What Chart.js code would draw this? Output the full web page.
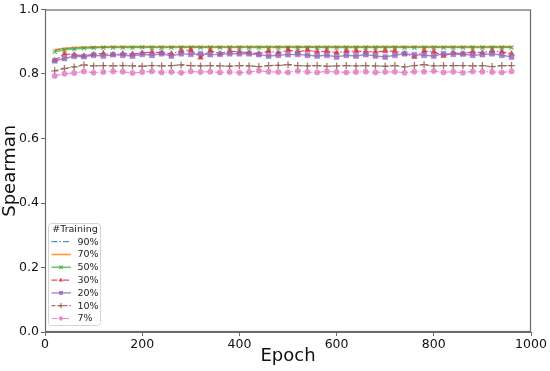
<!DOCTYPE html>
<html>
<head>
<meta charset="utf-8">
<script src="https://cdn.jsdelivr.net/npm/chart.js"></script>
<style>
html,body{margin:0;padding:0;background:#fff;}
#wrap{width:550px;height:371px;position:relative;}
</style>
</head>
<body>
<div id="wrap"><canvas id="c" width="550" height="371"></canvas></div>
<script>
const epochs = [20,40,60,80,100,120,140,160,180,200,220,240,260,280,300,320,340,360,380,400,420,440,460,480,500,520,540,560,580,600,620,640,660,680,700,720,740,760,780,800,820,840,860,880,900,920,940,960];

const seriesLabels = ['90%','70%','50%','30%','20%','10%','7%'];

const s90 = [0.874,0.879,0.881,0.883,0.884,0.884,0.884,0.885,0.885,0.885,0.885,0.885,0.885,0.885,0.885,0.885,0.885,0.885,0.885,0.885,0.885,0.885,0.885,0.885,0.885,0.885,0.885,0.885,0.885,0.885,0.885,0.885,0.885,0.885,0.885,0.885,0.885,0.885,0.885,0.885,0.885,0.885,0.885,0.885,0.885,0.885,0.885,0.885];
const s70 = [0.876,0.880,0.882,0.883,0.884,0.884,0.885,0.885,0.885,0.885,0.885,0.885,0.885,0.885,0.885,0.885,0.885,0.885,0.885,0.885,0.885,0.885,0.885,0.885,0.885,0.885,0.885,0.885,0.885,0.885,0.885,0.885,0.885,0.885,0.885,0.885,0.885,0.885,0.885,0.885,0.885,0.885,0.885,0.885,0.885,0.885,0.885,0.885];
const s50 = [0.869,0.875,0.878,0.880,0.881,0.882,0.882,0.882,0.882,0.883,0.882,0.882,0.882,0.882,0.882,0.882,0.882,0.882,0.882,0.882,0.882,0.882,0.882,0.882,0.882,0.882,0.882,0.882,0.882,0.882,0.882,0.882,0.882,0.882,0.882,0.882,0.882,0.882,0.882,0.882,0.882,0.882,0.882,0.882,0.882,0.882,0.882,0.882];
const s30 = [0.842,0.862,0.860,0.856,0.861,0.864,0.860,0.863,0.862,0.865,0.868,0.866,0.863,0.871,0.874,0.851,0.872,0.863,0.871,0.869,0.866,0.863,0.871,0.866,0.874,0.869,0.874,0.869,0.871,0.866,0.871,0.871,0.869,0.869,0.871,0.871,0.863,0.853,0.871,0.869,0.856,0.866,0.863,0.869,0.866,0.871,0.869,0.863];
const s20 = [0.841,0.848,0.855,0.854,0.858,0.856,0.860,0.858,0.856,0.861,0.858,0.863,0.856,0.863,0.861,0.863,0.860,0.861,0.863,0.863,0.863,0.860,0.856,0.858,0.860,0.861,0.858,0.856,0.858,0.853,0.858,0.856,0.860,0.856,0.853,0.858,0.863,0.860,0.858,0.856,0.863,0.861,0.862,0.858,0.860,0.863,0.858,0.853];
const s10 = [0.810,0.817,0.822,0.828,0.825,0.826,0.825,0.826,0.825,0.824,0.826,0.825,0.826,0.828,0.826,0.825,0.826,0.825,0.824,0.826,0.825,0.823,0.826,0.827,0.829,0.826,0.825,0.826,0.824,0.825,0.826,0.825,0.826,0.825,0.824,0.826,0.822,0.826,0.829,0.825,0.826,0.826,0.826,0.825,0.826,0.823,0.826,0.826];
const s7 = [0.794,0.801,0.803,0.808,0.804,0.806,0.808,0.807,0.803,0.806,0.808,0.805,0.806,0.804,0.808,0.806,0.807,0.805,0.806,0.804,0.806,0.810,0.807,0.806,0.805,0.809,0.806,0.805,0.808,0.806,0.805,0.806,0.807,0.805,0.806,0.807,0.804,0.807,0.807,0.809,0.805,0.807,0.804,0.808,0.807,0.806,0.805,0.808];

const yTicks = [0.0,0.2,0.4,0.6,0.8,1.0];
const xTicks = [0,200,400,600,800,1000];

const allSeries = [s90,s70,s50,s30,s20,s10,s7];
const styles = [
  {color:'#1f77b4', dash:[6,2,1.5,2], marker:false, width:1.2},
  {color:'#ff7f0e', dash:[], marker:false, width:1.6},
  {color:'#2ca02c', dash:[], marker:'crossRot', r:3, width:1.6, alpha:0.65},
  {color:'#d62728', dash:[6,2,1.5,2], marker:'triangle', r:3.2, width:1.2},
  {color:'#9467bd', dash:[], marker:'rect', r:3.5, width:1.4},
  {color:'#8c564b', dash:[4,2], marker:'cross', r:3.5, width:1.2},
  {color:'#e377c2', dash:[6,2,1.5,2], marker:'circle', r:2.7, width:1.2}
];

function rgba(hex,a){const n=parseInt(hex.slice(1),16);return `rgba(${n>>16&255},${n>>8&255},${n&255},${a})`;}

const datasets = allSeries.map((vals,i)=>{
  const st = styles[i];
  const a = st.alpha || 0.8;
  return {
    label: seriesLabels[i],
    data: epochs.map((e,j)=>({x:e,y:vals[j]})),
    borderColor: rgba(st.color,a),
    backgroundColor: rgba(st.color,a),
    borderWidth: st.width,
    borderDash: st.dash,
    pointStyle: st.marker || 'circle',
    pointRadius: st.marker ? st.r : 0,
    pointBorderWidth: (st.marker==='cross'||st.marker==='crossRot') ? 1.3 : 0.5,
    pointBorderColor: rgba(st.color,a),
    pointBackgroundColor: rgba(st.color,a),
    tension: 0,
    fill: false,
    order: 7 - i
  };
});

function drawMarker(ctx, style, x, y, r, color){
  ctx.save();
  ctx.setLineDash([]);
  ctx.fillStyle = color; ctx.strokeStyle = color; ctx.lineWidth = 1.2;
  ctx.beginPath();
  if(style==='rect'){ const s=r*Math.SQRT1_2; ctx.rect(x-s,y-s,2*s,2*s); ctx.fill(); }
  else if(style==='circle'){ ctx.arc(x,y,r,0,Math.PI*2); ctx.fill(); }
  else if(style==='triangle'){ ctx.moveTo(x,y-r); ctx.lineTo(x+r*0.87,y+r*0.5); ctx.lineTo(x-r*0.87,y+r*0.5); ctx.closePath(); ctx.fill(); }
  else if(style==='cross'){ ctx.moveTo(x-r,y); ctx.lineTo(x+r,y); ctx.moveTo(x,y-r); ctx.lineTo(x,y+r); ctx.stroke(); }
  else if(style==='crossRot'){ const s=r*0.75; ctx.moveTo(x-s,y-s); ctx.lineTo(x+s,y+s); ctx.moveTo(x+s,y-s); ctx.lineTo(x-s,y+s); ctx.stroke(); }
  ctx.restore();
}

const framePlugin = {
  id:'frameLegend',
  afterDraw(chart){
    const ctx = chart.ctx, a = chart.chartArea;
    ctx.save();
    ctx.strokeStyle = '#6a6a6a'; ctx.lineWidth = 1.2;
    ctx.strokeRect(a.left+0.5, a.top+0.5, a.right-a.left-1, a.bottom-a.top-1);
    // legend
    const bx=48.5, by=223.5, bw=52, bh=102;
    ctx.fillStyle='rgba(255,255,255,0.8)';
    ctx.strokeStyle='#d4d4d4'; ctx.lineWidth=1;
    ctx.beginPath();
    if(ctx.roundRect){ctx.roundRect(bx,by,bw,bh,3);} else {ctx.rect(bx,by,bw,bh);}
    ctx.fill(); ctx.stroke();
    ctx.fillStyle='#222';
    ctx.font='9.5px "DejaVu Sans"';
    ctx.textAlign='center'; ctx.textBaseline='middle';
    ctx.fillText('#Training', 75, 230);
    ctx.textAlign='left';
    seriesLabels.forEach((lab,i)=>{
      const st=styles[i]; const y = 241.7 + i*12.8;
      const col = rgba(st.color, st.alpha||0.8);
      ctx.save();
      ctx.strokeStyle=col; ctx.lineWidth=st.width; ctx.setLineDash(st.dash);
      ctx.beginPath(); ctx.moveTo(51.5,y); ctx.lineTo(71,y); ctx.stroke();
      ctx.restore();
      if(st.marker) drawMarker(ctx, st.marker, 61, y, st.r*0.8, col);
      ctx.fillStyle='#222';
      ctx.fillText(lab, 77.5, y+0.5);
    });
    ctx.restore();
  }
};

new Chart(document.getElementById('c'), {
  type:'line',
  data:{datasets},
  options:{
    responsive:false,
    animation:false,
    events:[],
    layout:{padding:{top:9,right:19,left:0,bottom:0}},
    plugins:{legend:{display:false},tooltip:{enabled:false}},
    scales:{
      x:{
        type:'linear', min:0, max:1000,
        afterFit(s){ s.height = 39; },
        afterBuildTicks(s){ s.ticks = xTicks.map(v=>({value:v})); },
        grid:{drawOnChartArea:false, drawTicks:true, tickLength:4, color:'#6a6a6a'},
        border:{display:true,color:'#6a6a6a'},
        ticks:{padding:1, color:'#111', font:{family:'DejaVu Sans', size:12.5}, maxRotation:0, callback:v=>String(v)},
        title:{display:true, text:'Epoch', color:'#111', font:{family:'DejaVu Sans', size:18}, padding:{top:0,bottom:4}}
      },
      y:{
        type:'linear', min:0, max:1.0,
        afterFit(s){ s.width = 45; },
        afterBuildTicks(s){ s.ticks = yTicks.map(v=>({value:v})); },
        grid:{drawOnChartArea:false, drawTicks:true, tickLength:4, color:'#6a6a6a'},
        border:{display:true,color:'#6a6a6a'},
        ticks:{padding:2, color:'#111', font:{family:'DejaVu Sans', size:12.5}, callback:v=>Number(v).toFixed(1)},
        title:{display:true, text:'Spearman', color:'#111', font:{family:'DejaVu Sans', size:18}, padding:{top:0,bottom:0}}
      }
    }
  },
  plugins:[framePlugin]
});
</script>
</body>
</html>
